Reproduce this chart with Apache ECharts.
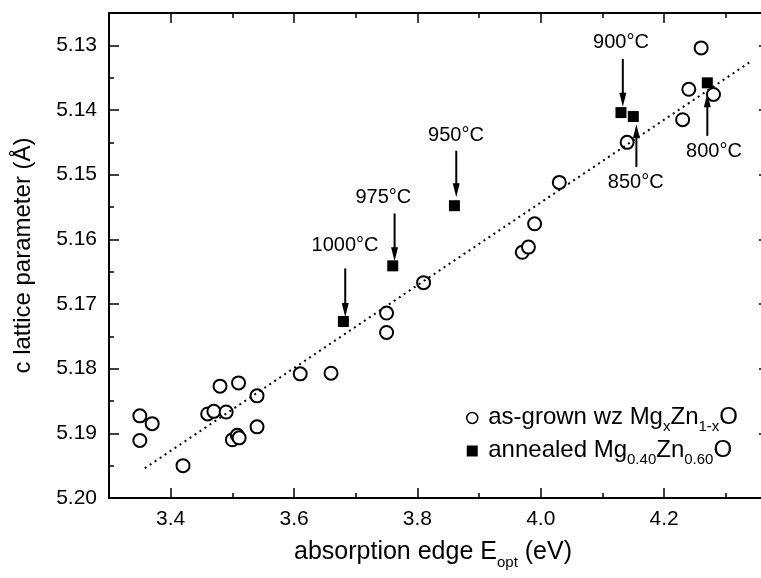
<!DOCTYPE html>
<html>
<head>
<meta charset="utf-8">
<script src="https://cdn.jsdelivr.net/npm/echarts@6/dist/echarts.min.js"></script>
<style>
html,body{margin:0;padding:0;background:#fff;}
#chart{width:761px;height:578px;}
</style>
</head>
<body>
<div id="chart"></div>
<script>
// ---- data ----
var asGrownE = [3.35, 3.37, 3.35, 3.42, 3.46, 3.47, 3.48, 3.49, 3.51, 3.54, 3.50, 3.508, 3.511, 3.54, 3.61, 3.66, 3.75, 3.75, 3.81, 3.97, 3.98, 3.99, 4.03, 4.14, 4.23, 4.24, 4.26, 4.28];
var asGrownC = [5.1873, 5.1885, 5.1911, 5.1950, 5.1870, 5.1866, 5.1827, 5.1867, 5.1822, 5.1842, 5.1910, 5.1903, 5.1907, 5.1890, 5.1808, 5.1807, 5.1714, 5.1744, 5.1667, 5.1620, 5.1612, 5.1576, 5.1512, 5.1450, 5.1415, 5.1368, 5.1304, 5.1376];
var annealedE = [3.68, 3.76, 3.86, 4.13, 4.15, 4.27];
var annealedC = [5.1727, 5.1641, 5.1548, 5.1404, 5.1410, 5.1358];
var tempLabels = ['1000°C', '975°C', '950°C', '900°C', '850°C', '800°C'];
// annotation arrows (data units)
var arrowE = [3.683, 3.763, 3.863, 4.133, 4.155, 4.270];
var arrowFromC = [5.1645, 5.1560, 5.1463, 5.1321, 5.1488, 5.1440];
var arrowToC = [5.1720, 5.1634, 5.1535, 5.1395, 5.1422, 5.1374];
var tempLabelE = [3.6826, 3.7447, 3.8625, 4.130, 4.154, 4.2807];
var tempLabelC = [5.1610, 5.1535, 5.1440, 5.1295, 5.1512, 5.1464];
// linear fit (dotted)
var fitE = [3.358, 4.339];
var fitC = [5.1954, 5.1326];
// ticks
var xMajor = [3.4, 3.6, 3.8, 4.0, 4.2];
var xMinor = [3.5, 3.7, 3.9, 4.1, 4.3];
var yMajor = [5.13, 5.14, 5.15, 5.16, 5.17, 5.18, 5.19, 5.20];
var yMinor = [5.135, 5.145, 5.155, 5.165, 5.175, 5.185, 5.195];
var xRange = [3.3, 4.37];
var yRange = [5.125, 5.20];

// ---- chart ----
var FONT = 'Arial, "Liberation Sans", sans-serif';
var chart = echarts.init(document.getElementById('chart'), null, {renderer: 'canvas'});

function zip(a, b) { return a.map(function (v, i) { return [v, b[i]]; }); }

function xAxisDef(pos, ticks, len, showLine, showLabel, name) {
  var ax = {
    type: 'value', gridIndex: 0, position: pos, min: xRange[0], max: xRange[1],
    splitLine: {show: false},
    axisLine: {show: showLine, onZero: false, lineStyle: {color: '#000', width: 2}},
    axisTick: {show: true, inside: true, length: len, customValues: ticks, lineStyle: {color: '#000', width: 1.5}},
    axisLabel: {show: showLabel, customValues: ticks, margin: 11, color: '#000', fontSize: 21, fontFamily: FONT,
      formatter: function (v) { return (+v).toFixed(1); }}
  };
  if (name) {
    ax.name = '{a|absorption edge E}{s|opt}{a| (eV)}';
    ax.nameLocation = 'middle';
    ax.nameGap = 42;
    ax.nameTextStyle = {
      color: '#000',
      padding: [0, 12, 0, 0],
      rich: {
        a: {fontSize: 25, fontFamily: FONT, color: '#000', lineHeight: 28, verticalAlign: 'top'},
        s: {fontSize: 15, fontFamily: FONT, color: '#000', lineHeight: 15, padding: [15, 0, 0, 0], verticalAlign: 'top'}
      }
    };
  }
  return ax;
}
function yAxisDef(pos, ticks, len, showLine, showLabel, name) {
  var ax = {
    type: 'value', gridIndex: 0, position: pos, min: yRange[0], max: yRange[1], inverse: true,
    splitLine: {show: false},
    axisLine: {show: showLine, onZero: false, lineStyle: {color: '#000', width: 2}},
    axisTick: {show: true, inside: true, length: len, customValues: ticks, lineStyle: {color: '#000', width: 1.5}},
    axisLabel: {show: showLabel, customValues: ticks, margin: 12, color: '#000', fontSize: 21, fontFamily: FONT,
      formatter: function (v) { return (+v).toFixed(2); }}
  };
  if (name) {
    ax.name = 'c lattice parameter (Å)';
    ax.nameLocation = 'middle';
    ax.nameGap = 74;
    ax.nameTextStyle = {color: '#000', fontSize: 24, fontFamily: FONT};
  }
  return ax;
}

var legendRich = {
  a: {fontSize: 24, fontFamily: FONT, color: '#000', lineHeight: 26, verticalAlign: 'top'},
  s: {fontSize: 15, fontFamily: FONT, color: '#000', lineHeight: 15, padding: [14, 0, 0, 0], verticalAlign: 'top'}
};

var option = {
  animation: false,
  backgroundColor: '#fff',
  grid: {left: 109, top: 13, width: 660, height: 485, containLabel: false, outerBoundsMode: 'none'},
  xAxis: [
    xAxisDef('bottom', xMajor, 10, true, true, true),
    xAxisDef('bottom', xMinor, 5, false, false, false),
    xAxisDef('top', xMajor, 10, true, false, false),
    xAxisDef('top', xMinor, 5, false, false, false)
  ],
  yAxis: [
    yAxisDef('left', yMajor, 10, true, true, true),
    yAxisDef('left', yMinor, 5, false, false, false),
    yAxisDef('right', yMajor, 10, true, false, false),
    yAxisDef('right', yMinor, 5, false, false, false)
  ],
  legend: {
    orient: 'vertical',
    left: 461, top: 400,
    itemWidth: 22, itemHeight: 11, itemGap: 4,
    symbolKeepAspect: true,
    selectedMode: false,
    data: [
      {name: 'asgrown', icon: 'circle', itemStyle: {color: '#fff', borderColor: '#000', borderWidth: 1.5, opacity: 1}},
      {name: 'annealed', icon: 'path://M0,0L10,0L10,10L0,10Z', itemStyle: {color: '#000', borderWidth: 0, opacity: 1}}
    ],
    formatter: function (n) {
      if (n === 'asgrown') return '{a|as-grown wz Mg}{s|x}{a|Zn}{s|1-x}{a|O}';
      return '{a|annealed Mg}{s|0.40}{a|Zn}{s|0.60}{a|O}';
    },
    textStyle: {rich: legendRich, color: '#000'}
  },
  series: [
    {
      name: 'fit', type: 'line', xAxisIndex: 0, yAxisIndex: 0,
      data: zip(fitE, fitC), symbol: 'none', silent: true,
      lineStyle: {color: '#000', width: 2, type: [2, 4]}
    },
    {
      name: 'asgrown', type: 'scatter', xAxisIndex: 0, yAxisIndex: 0,
      data: zip(asGrownE, asGrownC), symbol: 'emptyCircle', symbolSize: 13,
      itemStyle: {color: '#000', borderColor: '#000', borderWidth: 1.5, opacity: 1}
    },
    {
      name: 'annealed', type: 'scatter', xAxisIndex: 0, yAxisIndex: 0,
      data: zip(annealedE, annealedC), symbol: 'rect', symbolSize: 11,
      itemStyle: {color: '#000', opacity: 1}
    },
    {
      name: 'arrows', type: 'custom', xAxisIndex: 0, yAxisIndex: 0, silent: true,
      data: arrowE.map(function (e, i) { return [e, arrowFromC[i], arrowToC[i], tempLabelE[i], tempLabelC[i]]; }),
      renderItem: function (params, api) {
        var p1 = api.coord([api.value(0), api.value(1)]);
        var p2 = api.coord([api.value(0), api.value(2)]);
        var lp = api.coord([api.value(3), api.value(4)]);
        var dir = p2[1] > p1[1] ? 1 : -1;
        var headLen = 14, headW = 3.5;
        var base = p2[1] - dir * headLen;
        return {
          type: 'group',
          children: [
            {type: 'line', shape: {x1: p1[0], y1: p1[1], x2: p2[0], y2: base + dir * 2},
             style: {stroke: '#000', lineWidth: 2}},
            {type: 'polygon', shape: {points: [[p2[0] - headW, base], [p2[0] + headW, base], [p2[0], p2[1]]]},
             style: {fill: '#000'}},
            {type: 'text', x: lp[0], y: lp[1],
             style: {text: tempLabels[params.dataIndex], align: 'center', verticalAlign: 'middle',
                     fontSize: 20, fontFamily: FONT, fill: '#000'}}
          ]
        };
      }
    }
  ]
};
chart.setOption(option);
</script>
</body>
</html>
